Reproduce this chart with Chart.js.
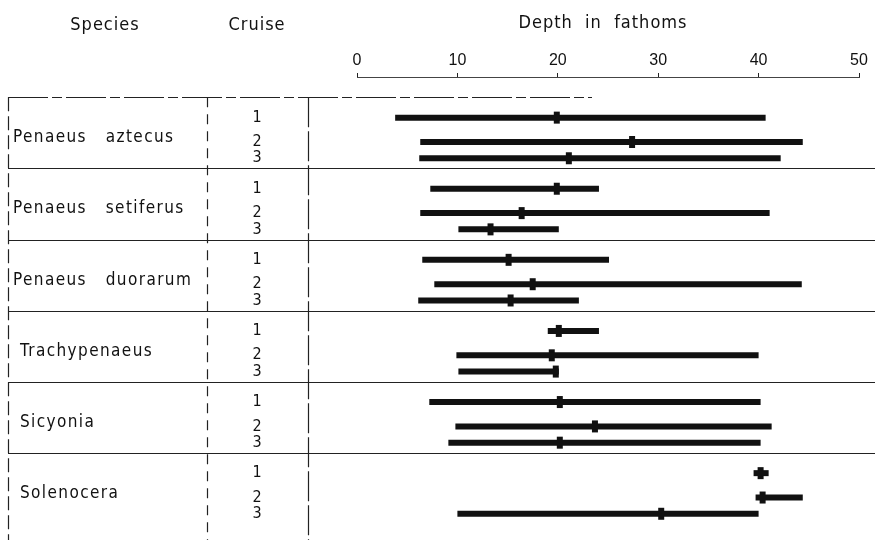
<!DOCTYPE html>
<html><head><meta charset="utf-8">
<script src="https://cdn.jsdelivr.net/npm/chart.js@4.4.1/dist/chart.umd.min.js"></script>
<style>html,body{margin:0;padding:0;background:#fff}#wrap{width:875px;height:540px;position:relative}</style>
</head><body><div id="wrap"><canvas id="c"></canvas></div>
<script>
// ---- data ----
const speciesNames = ['Penaeus   aztecus','Penaeus   setiferus','Penaeus   duorarum','Trachypenaeus','Sicyonia','Solenocera'];
const cruiseLabels = ['1','2','3'];
const depthTicks = [0,10,20,30,40,50];
const axisTitle = 'Depth  in  fathoms';
const headerSpecies = 'Species';
const headerCruise = 'Cruise';
// per species, cruises 1..3 (fathoms)
const rangeStart = [3.8,6.3,6.2, 7.3,6.3,10.1, 6.5,7.7,6.1, 19.0,9.9,10.1, 7.2,9.8,9.1, 39.5,39.7,10.0];
const rangeEnd   = [40.7,44.4,42.2, 24.1,41.1,20.1, 25.1,44.3,22.1, 24.1,40.0,20.1, 40.2,41.3,40.2, 41.0,44.4,40.0];
const meanDepth  = [19.9,27.4,21.1, 19.9,16.4,13.3, 15.1,17.5,15.3, 20.1,19.4,19.8, 20.2,23.7,20.2, 40.2,40.4,30.3];

// ---- layout helpers ----
const GROUP = 3.5;
const ROW_OFFSET = [1, 2.2, 3];
const rowY = i => Math.floor(i/3)*GROUP + ROW_OFFSET[i%3];
const narrow = '"Liberation Sans Narrow","DejaVu Sans Condensed","Arial Narrow",sans-serif';
const INK = '#111';

const datasets = [];
rangeStart.forEach((s,i)=>{
  datasets.push({
    data:[{x:s,y:rowY(i)},{x:rangeEnd[i],y:rowY(i)}],
    showLine:true, borderColor:INK, borderWidth:6, pointRadius:0, borderCapStyle:'butt'
  });
});
datasets.push({
  data: meanDepth.map((m,i)=>({x:m,y:rowY(i)})),
  showLine:false, pointStyle:'line', rotation:90, pointRadius:6, pointHoverRadius:6,
  borderColor:INK, backgroundColor:INK, pointBorderWidth:6
});

const tablePlugin = {
  id:'table',
  afterDraw(chart){
    const ctx = chart.ctx, ys = chart.scales.y, W = chart.width, H = chart.height;
    ctx.save();
    ctx.strokeStyle = '#222'; ctx.lineWidth = 1.2;
    // horizontal separators
    for(let g=0; g<speciesNames.length; g++){
      const y = Math.round(ys.getPixelForValue(g*GROUP))+0.5;
      ctx.setLineDash(g===0?[40,4,10,4]:[]);
      ctx.beginPath(); ctx.moveTo(8,y); ctx.lineTo(g===0?592:W,y); ctx.stroke();
    }
    // vertical table lines
    const top = ys.getPixelForValue(0);
    [[8.5,[14,5]],[207.5,[10,7]],[308.5,[30,4]]].forEach(([x,d])=>{
      ctx.setLineDash(d);
      ctx.beginPath(); ctx.moveTo(x,top); ctx.lineTo(x,H); ctx.stroke();
    });
    ctx.setLineDash([]);
    // text
    ctx.fillStyle = INK;
    ctx.textBaseline = 'middle';
    ctx.letterSpacing = '1px';
    ctx.font = '18px ' + narrow;
    ctx.textAlign = 'center';
    ctx.fillText(headerSpecies, 105, 25);
    ctx.fillText(headerCruise, 257, 25);
    ctx.fillText(axisTitle, 603, 23);
    ctx.letterSpacing = '1.4px';
    ctx.font = '17px ' + narrow;
    ctx.textAlign = 'left';
    speciesNames.forEach((n,g)=>{
      ctx.fillText(n, g<3?13:20, ys.getPixelForValue(g*GROUP+2));
    });
    ctx.letterSpacing = '0px';
    ctx.textAlign = 'center';
    ctx.font = '16px ' + narrow;
    rangeStart.forEach((s,i)=>{
      ctx.fillText(cruiseLabels[i%3], 257, ys.getPixelForValue(rowY(i)));
    });
    ctx.restore();
  }
};

new Chart(document.getElementById('c'), {
  type:'scatter',
  data:{datasets},
  options:{
    responsive:true, maintainAspectRatio:false, animation:false,
    layout:{padding:{left:357,right:16,top:0,bottom:0}},
    plugins:{legend:{display:false},tooltip:{enabled:false}},
    scales:{
      x:{
        type:'linear', position:'top', min:0, max:50,
        afterBuildTicks: s => { s.ticks = depthTicks.map(v=>({value:v})); },
        afterFit: s => { s.height = 77; },
        ticks:{color:INK, padding:3, font:{family:'"Liberation Sans",Arial,sans-serif', size:16}},
        grid:{drawOnChartArea:false, drawTicks:true, tickLength:4, color:'#222'},
        border:{display:true, color:'#444', width:1, dash:[12,5]}
      },
      y:{type:'linear', display:false, reverse:true, min:-1, max:21.2}
    }
  },
  plugins:[tablePlugin]
});
</script>
</body></html>
